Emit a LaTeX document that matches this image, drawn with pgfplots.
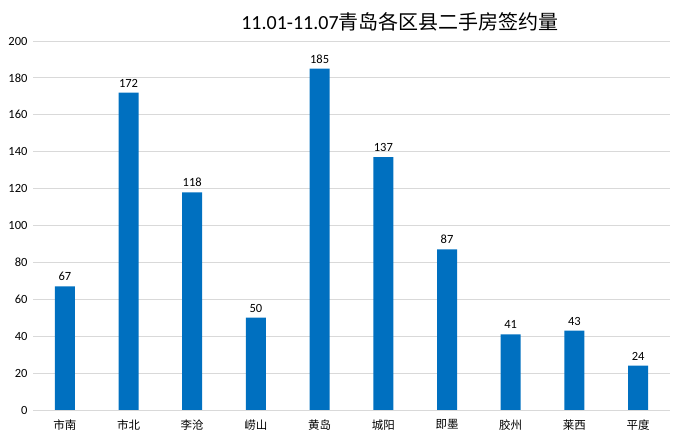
\documentclass[border=0pt]{standalone}
\usepackage{pgfplots}
\pgfplotsset{compat=1.18}
\usepackage{fontspec}
\setmainfont{Carlito}
\newfontfamily\cjk{Noto Sans CJK SC}
\definecolor{barblue}{HTML}{0070C0}
\definecolor{gridgray}{HTML}{D9D9D9}
\begin{document}
\begin{tikzpicture}[x=1pt,y=1pt]
\useasboundingbox (0,0) rectangle (681,443);
\begin{axis}[
  at={(33pt,33pt)}, anchor=south west,
  scale only axis, width=637pt, height=369pt,
  xmin=-0.5, xmax=9.5, ymin=0, ymax=200,
  ytick={0,20,...,200},
  xtick={0,...,9},
  xticklabels={市南,市北,李沧,崂山,黄岛,城阳,即墨,胶州,莱西,平度},
  xticklabel style={font=\cjk\fontsize{11.5}{13}\selectfont, yshift=-2pt},
  yticklabel style={font=\fontsize{12.5}{14}\selectfont, xshift=-2pt},
  /pgf/number format/assume math mode=true,
  ymajorgrids, grid style={gridgray, line width=0.8pt},
  axis line style={draw=none},
  tick style={draw=none},
  ybar, bar width=20pt,
  nodes near coords,
  nodes near coords style={font=\fontsize{12.5}{14}\selectfont, text=black, yshift=2pt},
  clip=false,
]
\draw[gridgray, line width=0.8pt] (axis cs:-0.5,0) -- (axis cs:9.5,0);
\addplot[fill=barblue, draw=none] coordinates {(0,67) (1,172) (2,118) (3,50) (4,185) (5,137) (6,87) (7,41) (8,43) (9,24)};
\end{axis}
\node at (400,421) {\fontsize{20}{24}\selectfont 11.01-11.07{\cjk 青岛各区县二手房签约量}};
\end{tikzpicture}
\end{document}
